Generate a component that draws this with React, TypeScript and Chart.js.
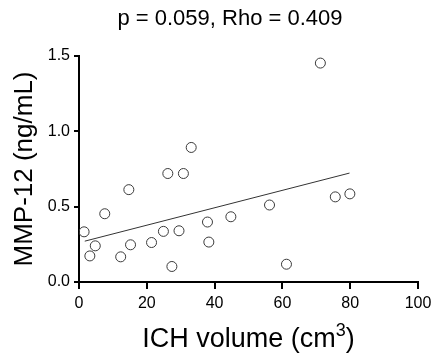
import React, { useEffect, useRef } from "react";
import { Chart, registerables } from "chart.js";

Chart.register(...registerables);

const titleText = "p = 0.059, Rho = 0.409";
const xTitleMain = "ICH volume (cm";
const xTitleSup = "3";
const xTitleEnd = ")";
const yTitle = "MMP-12 (ng/mL)";

const volume = [1.5, 3.2, 4.8, 7.6, 12.3, 14.7, 15.2, 21.4, 24.9, 26.2, 27.4, 29.5, 30.8, 33.1, 37.9, 38.3, 44.8, 56.2, 61.2, 71.2, 75.6, 79.9];
const mmp12 = [0.333, 0.173, 0.24, 0.453, 0.167, 0.613, 0.247, 0.262, 0.336, 0.72, 0.103, 0.34, 0.72, 0.893, 0.398, 0.265, 0.433, 0.511, 0.118, 1.453, 0.565, 0.585];

const fitX = [1.7, 79.8];
const fitY = [0.271, 0.723];

const xTicks = [0, 20, 40, 60, 80, 100];
const yTicks = [0, 0.5, 1.0, 1.5];

const FONT = '"Liberation Sans", Arial, Helvetica, sans-serif';

export default function App() {
  const ref = useRef<HTMLCanvasElement | null>(null);

  useEffect(() => {
    document.body.style.margin = "0";
    const canvas = ref.current;
    if (!canvas) return;

    const textPlugin = {
      id: "customTexts",
      afterDraw(chart: any) {
        const ctx = chart.ctx;
        const area = chart.chartArea;
        const xs = chart.scales.x;
        const ys = chart.scales.y;
        ctx.save();
        // tick marks
        ctx.fillStyle = "#000";
        xTicks.forEach((v) => {
          const px = Math.round(xs.getPixelForValue(v));
          ctx.fillRect(px - 1, area.bottom, 2, 7);
        });
        yTicks.forEach((v) => {
          const py = Math.round(ys.getPixelForValue(v));
          ctx.fillRect(area.left - 5, py - 1, 5, 2);
        });

        ctx.fillStyle = "#000";
        ctx.textBaseline = "alphabetic";
        // chart title
        ctx.font = `22px ${FONT}`;
        ctx.textAlign = "center";
        ctx.fillText(titleText, 230, 25);
        // x axis title with superscript
        const mainFont = `27px ${FONT}`;
        const supFont = `18px ${FONT}`;
        ctx.font = mainFont;
        const w1 = ctx.measureText(xTitleMain).width;
        const w3 = ctx.measureText(xTitleEnd).width;
        ctx.font = supFont;
        const w2 = ctx.measureText(xTitleSup).width;
        const total = w1 + w2 + w3;
        const cx = (area.left + area.right) / 2;
        let x = cx - total / 2;
        const base = 347;
        ctx.textAlign = "left";
        ctx.font = mainFont;
        ctx.fillText(xTitleMain, x, base);
        x += w1;
        ctx.font = supFont;
        ctx.fillText(xTitleSup, x, base - 11);
        x += w2;
        ctx.font = mainFont;
        ctx.fillText(xTitleEnd, x, base);
        ctx.restore();
      },
    };

    const chart = new Chart(canvas, {
      type: "scatter",
      data: {
        datasets: [
          {
            type: "scatter",
            data: volume.map((v, i) => ({ x: v, y: mmp12[i] })),
            pointRadius: 5,
            pointHoverRadius: 5,
            pointBorderWidth: 1,
            borderColor: "#3a3a3a",
            backgroundColor: "rgba(255,255,255,0)",
          },
          {
            type: "line",
            data: fitX.map((v, i) => ({ x: v, y: fitY[i] })),
            borderColor: "#333",
            borderWidth: 1,
            pointRadius: 0,
            fill: false,
          } as any,
        ],
      },
      options: {
        animation: false,
        responsive: false,
        maintainAspectRatio: false,
        layout: { padding: { top: 56, right: 14, left: 0, bottom: 0 } },
        plugins: {
          legend: { display: false },
          tooltip: { enabled: false },
          title: { display: false },
        },
        scales: {
          x: {
            type: "linear",
            min: 0,
            max: 100,
            afterFit(scale: any) {
              scale.height = 72;
            },
            afterBuildTicks(scale: any) {
              scale.ticks = xTicks.map((v) => ({ value: v }));
            },
            ticks: {
              color: "#000",
              font: { family: FONT, size: 16 },
              padding: 0,
              maxRotation: 0,
              autoSkip: false,
            },
            grid: {
              display: true,
              drawOnChartArea: false,
              drawTicks: true,
              tickLength: 12,
              color: "rgba(0,0,0,0)",
              tickColor: "rgba(0,0,0,0)",
            },
            border: { display: true, color: "#000", width: 2 },
            title: { display: false },
          },
          y: {
            type: "linear",
            min: 0,
            max: 1.5,
            afterFit(scale: any) {
              scale.width = 79;
            },
            afterBuildTicks(scale: any) {
              scale.ticks = yTicks.map((v) => ({ value: v }));
            },
            ticks: {
              color: "#000",
              font: { family: FONT, size: 16 },
              padding: 9,
              autoSkip: false,
              callback: (v: any) => Number(v).toFixed(1),
            },
            grid: { display: false, drawTicks: false },
            border: { display: true, color: "#000", width: 2 },
            title: {
              display: true,
              text: yTitle,
              color: "#000",
              font: { family: FONT, size: 26 },
              padding: { top: 9, bottom: 0 },
            },
          },
        },
      },
      plugins: [textPlugin],
    });

    return () => chart.destroy();
  }, []);

  return (
    <div style={{ width: 432, height: 354 }}>
      <canvas ref={ref} width={432} height={354} style={{ display: "block" }} />
    </div>
  );
}
